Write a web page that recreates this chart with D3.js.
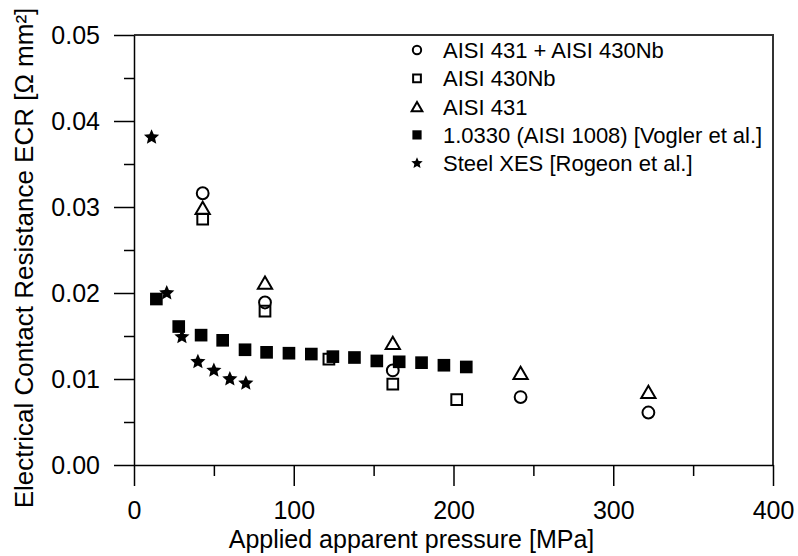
<!DOCTYPE html>
<html>
<head>
<meta charset="utf-8">
<script src="https://cdn.jsdelivr.net/npm/d3@7"></script>
<style>
  body { margin: 0; background: #fff; }
  svg { display: block; font-family: Arial, "Liberation Sans", sans-serif; }
  .axis text { font-size: 25px; fill: #000; }
  .axis path, .axis line { stroke: #000; stroke-width: 1.5; }
</style>
</head>
<body>
<div id="chart"></div>
<script>
// series: [pressure MPa, ECR Ω mm²]
const combined = [[43, 0.0316], [82, 0.0189], [162, 0.0110], [242, 0.0079], [322, 0.0061]];
const aisi430Nb = [[43, 0.0286], [82, 0.0179], [122, 0.0123], [162, 0.0094], [202, 0.0076]];
const aisi431 = [[43, 0.0299], [82, 0.0212], [162, 0.0142], [242, 0.0107], [322, 0.0085]];
const voglerX = [14, 28, 42, 55.5, 69.5, 83, 97, 111, 124.5, 138, 152, 166, 180, 194, 208];
const voglerY = [0.0193, 0.0161, 0.0151, 0.0145, 0.0134, 0.0131, 0.0130, 0.0129, 0.0126, 0.0125, 0.0121, 0.0120, 0.0119, 0.0116, 0.0114];
const rogeon = [[11, 0.0381], [20.5, 0.0200], [30, 0.0149], [40, 0.0120], [50, 0.0110], [60, 0.0100], [70, 0.0095]];

const xTicks = [0, 100, 200, 300, 400];
const xMinor = [50, 150, 250, 350];
const yTicks = [0, 0.01, 0.02, 0.03, 0.04, 0.05];
const yMinor = [0.005, 0.015, 0.025, 0.035, 0.045];

const legendLabels = [
  "AISI 431 + AISI 430Nb",
  "AISI 430Nb",
  "AISI 431",
  "1.0330 (AISI 1008) [Vogler et al.]",
  "Steel XES [Rogeon et al.]",
];

const width = 798;
const height = 556;
const margin = { top: 35, right: 25, bottom: 91, left: 134 };

const x = d3.scaleLinear().domain([0, 400]).range([margin.left, width - margin.right]);
const y = d3.scaleLinear().domain([0, 0.05]).range([height - margin.bottom, margin.top]);

// a chunkier five point star than d3.symbolStar, size = outer radius squared
const fatStar = {
  draw(context, size) {
    const r = Math.sqrt(size);
    const ri = r * 0.46;
    for (let i = 0; i < 10; ++i) {
      const a = (Math.PI * i) / 5 - Math.PI / 2;
      const rr = i % 2 ? ri : r;
      if (i === 0) context.moveTo(rr * Math.cos(a), rr * Math.sin(a));
      else context.lineTo(rr * Math.cos(a), rr * Math.sin(a));
    }
    context.closePath();
  },
};

const svg = d3.select("#chart").append("svg")
  .attr("width", width)
  .attr("height", height);

// frame on top and right
svg.append("path")
  .attr("d", `M${x(0)},${y(0.05)}H${x(400)}V${y(0)}`)
  .attr("fill", "none")
  .attr("stroke", "#333")
  .attr("stroke-width", 2);

// y axis
svg.append("g")
  .attr("class", "axis")
  .attr("transform", `translate(${margin.left},0)`)
  .call(d3.axisLeft(y).tickValues(yTicks).tickSize(20).tickSizeOuter(0)
    .tickPadding(14).tickFormat(d3.format(".2f")));
svg.append("g")
  .attr("class", "axis")
  .attr("transform", `translate(${margin.left},0)`)
  .call(d3.axisLeft(y).tickValues(yMinor).tickSize(10).tickSizeOuter(0).tickFormat(""))
  .call((g) => g.select(".domain").remove());

// x axis
svg.append("g")
  .attr("class", "axis")
  .attr("transform", `translate(0,${height - margin.bottom})`)
  .call(d3.axisBottom(x).tickValues(xTicks).tickSize(21).tickSizeOuter(0).tickPadding(15));
svg.append("g")
  .attr("class", "axis")
  .attr("transform", `translate(0,${height - margin.bottom})`)
  .call(d3.axisBottom(x).tickValues(xMinor).tickSize(11).tickSizeOuter(0).tickFormat(""))
  .call((g) => g.select(".domain").remove());

// axis titles
svg.append("text")
  .attr("x", (x(0) + x(400)) / 2 - 42)
  .attr("y", 548)
  .attr("text-anchor", "middle")
  .attr("font-size", 25)
  .text("Applied apparent pressure [MPa]");

svg.append("text")
  .attr("transform", `translate(33,${(y(0) + y(0.05)) / 2 + 8}) rotate(-90)`)
  .attr("text-anchor", "middle")
  .attr("font-size", 26)
  .text("Electrical Contact Resistance ECR [Ω mm²]");

// markers
const shapes = [
  { type: d3.symbolCircle, size: 110, filled: false },
  { type: d3.symbolSquare, size: 115, filled: false },
  { type: d3.symbolTriangle, size: 88, filled: false },
  { type: d3.symbolSquare, size: 160, filled: true },
  { type: fatStar, size: 64, filled: true },
];
const vogler = voglerX.map((d, i) => [d, voglerY[i]]);
const series = [vogler, rogeon, aisi430Nb, combined, aisi431];
const seriesShape = [3, 4, 1, 0, 2];

series.forEach((data, i) => {
  const s = shapes[seriesShape[i]];
  svg.append("g")
    .selectAll("path")
    .data(data)
    .join("path")
    .attr("transform", (d) => `translate(${x(d[0])},${y(d[1]) + (s.type === d3.symbolTriangle ? 2 : 0)})`)
    .attr("d", d3.symbol(s.type, s.size))
    .attr("fill", s.filled ? "#000" : "none")
    .attr("stroke", s.filled ? "none" : "#000")
    .attr("stroke-width", 2);
});

// legend
const legendShapes = [
  { type: d3.symbolCircle, size: 55, filled: false },
  { type: d3.symbolSquare, size: 60, filled: false },
  { type: d3.symbolTriangle, size: 50, filled: false },
  { type: d3.symbolSquare, size: 85, filled: true },
  { type: fatStar, size: 36, filled: true },
];
const legend = svg.append("g").attr("transform", "translate(417,50)");
const item = legend.selectAll("g")
  .data(legendLabels)
  .join("g")
  .attr("transform", (d, i) => `translate(0,${i * 28.3})`);
item.append("path")
  .attr("d", (d, i) => d3.symbol(legendShapes[i].type, legendShapes[i].size)())
  .attr("transform", (d, i) => (legendShapes[i].type === d3.symbolTriangle ? "translate(0,1.5)" : null))
  .attr("fill", (d, i) => (legendShapes[i].filled ? "#000" : "none"))
  .attr("stroke", (d, i) => (legendShapes[i].filled ? "none" : "#000"))
  .attr("stroke-width", 2);
item.append("text")
  .attr("x", 26)
  .attr("dy", "0.36em")
  .attr("font-size", 22)
  .text((d) => d);
</script>
</body>
</html>
